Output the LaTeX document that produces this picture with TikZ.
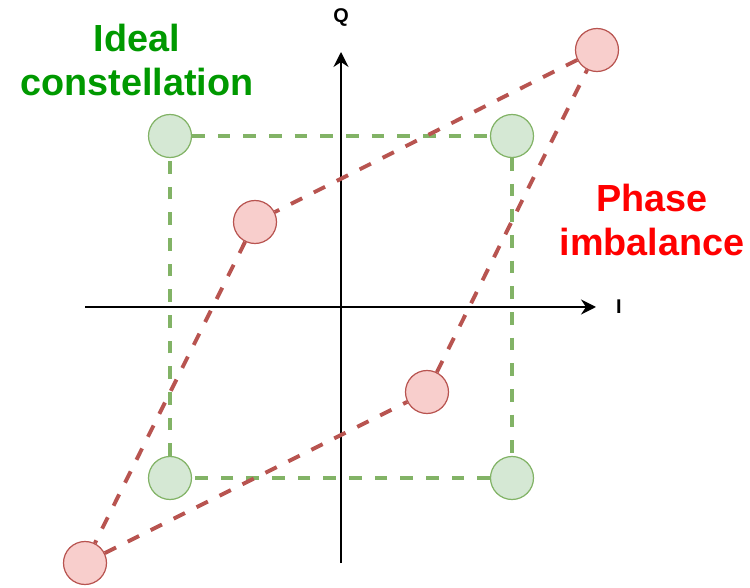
\documentclass[tikz,border=0pt]{standalone}
\usepackage{fontspec}
\setmainfont{Liberation Sans}
\usetikzlibrary{arrows.meta}
\definecolor{idealfill}{HTML}{D5E8D4}
\definecolor{idealline}{HTML}{82B366}
\definecolor{skewfill}{HTML}{F8CECC}
\definecolor{skewline}{HTML}{B85450}
\definecolor{idealtext}{HTML}{009900}
\definecolor{skewtext}{HTML}{FF0000}
\tikzset{
	idealpt/.style={shape=circle, draw=idealline, fill=idealfill, line width=0.7pt, minimum size=0.86cm, inner sep=0pt},
	skewpt/.style={shape=circle, draw=skewline, fill=skewfill, line width=0.7pt, minimum size=0.86cm, inner sep=0pt},
	idealedge/.style={draw=idealline, line width=2.1pt, dash pattern={on 7.2pt off 7.4pt}},
	skewedge/.style={draw=skewline, line width=2.2pt, dash pattern={on 7.2pt off 7.4pt}},
	axislabel/.style={font=\fontsize{11.3}{13}\selectfont\bfseries}
}
\begin{document}
\begin{tikzpicture}
	\useasboundingbox (0, 0) rectangle (15, 11.74);
	% Axes:
	\coordinate (iL) at (1.70, 5.60);
	\coordinate (iR) at (11.92, 5.60);
	\coordinate (qB) at (6.82, 0.48);
	\coordinate (qT) at (6.82, 10.70);
	\draw[line width=1.1pt, -{Stealth[length=3mm, width=3mm, inset=1mm]}] (iL) -- (iR);
	\draw[line width=1.1pt, -{Stealth[length=3mm, width=3mm, inset=1mm]}] (qB) -- (qT);
	\node[axislabel] (ilabel) at (12.38, 5.60){I};
	\node[axislabel] (qlabel) at (6.82, 11.38){Q};
	% Constellation points:
	\node[idealpt] (g1) at (3.40, 9.02){};
	\node[idealpt] (g2) at (10.24, 9.02){};
	\node[idealpt] (g3) at (10.24, 2.18){};
	\node[idealpt] (g4) at (3.40, 2.18){};
	\node[skewpt] (r1) at (11.94, 10.74){};
	\node[skewpt] (r2) at (5.10, 7.30){};
	\node[skewpt] (r3) at (1.70, 0.48){};
	\node[skewpt] (r4) at (8.54, 3.90){};
	\draw[idealedge] (g1) -- (g2);
	\draw[idealedge] (g2) -- (g3);
	\draw[idealedge] (g3) -- (g4);
	\draw[idealedge] (g4) -- (g1);
	\draw[skewedge] (r1) -- (r2);
	\draw[skewedge] (r2) -- (r3);
	\draw[skewedge] (r3) -- (r4);
	\draw[skewedge] (r4) -- (r1);
	% Labels:
	\node[align=center, text=idealtext, font=\fontsize{21.5}{25}\selectfont\bfseries] (ideal) at (2.74, 10.54){Ideal\\constellation};
	\node[align=center, text=skewtext, font=\fontsize{21.5}{25}\selectfont\bfseries] (phase) at (13.04, 7.34){Phase\\imbalance};
\end{tikzpicture}
\end{document}
